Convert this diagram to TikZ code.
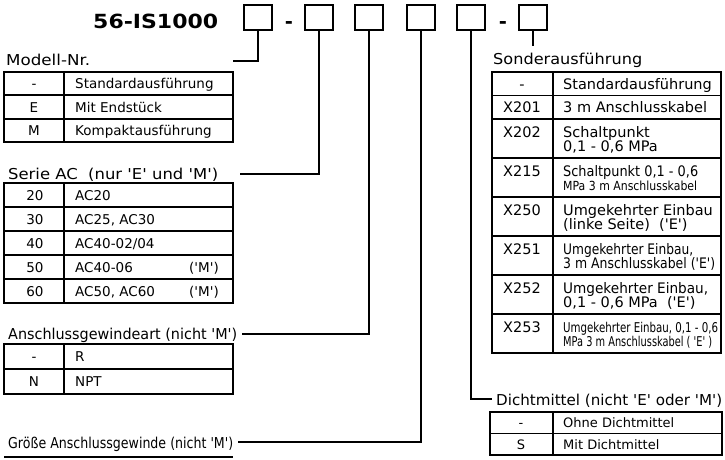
\documentclass[tikz,border=0pt]{standalone}
\usepackage{fontspec}
\usepackage{graphicx}
\newfontfamily\fplain{DejaVu Sans}
\newcommand\setfs[1]{\fontsize{#1}{#1}\selectfont}
\newcommand\fitw[2]{\resizebox{#1pt}{\height}{#2}}
\begin{document}
\begin{tikzpicture}[x=1pt,y=-1pt,
  box/.style={draw, line width=1.4pt, minimum width=28pt, minimum height=25pt, inner sep=0pt},
  conn/.style={line width=2pt},
  tbl/.style={line width=1.9pt},
  lab/.style={font=\fplain\setfs{15}, anchor=base west, inner sep=0pt},
  tl/.style={font=\fplain\setfs{13.5}, anchor=base west, inner sep=0pt},
  tle/.style={font=\fplain\setfs{13.5}, anchor=base east, inner sep=0pt},
  tc/.style={font=\fplain\setfs{13.5}, anchor=base, inner sep=0pt},
  tr/.style={font=\fplain\setfs{14.5}, anchor=base west, inner sep=0pt},
  trc/.style={font=\fplain\setfs{14.5}, anchor=base, inner sep=0pt},
  tdl/.style={font=\fplain\setfs{13}, anchor=base west, inner sep=0pt},
  tdc/.style={font=\fplain\setfs{13}, anchor=base, inner sep=0pt},
  ttl/.style={font=\fplain\bfseries\setfs{19.5}, inner sep=0pt}
]
\useasboundingbox (0,0) rectangle (725,459);

% title and code boxes
\node[ttl, anchor=base west] (title) at (93,28) {\fitw{125}{56-IS1000}};
\node[box] (b1) at (258,17.5) {};
\node[ttl, anchor=base] (d1) at (289,28) {-};
\node[box] (b2) at (319,17.5) {};
\node[box] (b3) at (369,17.5) {};
\node[box] (b4) at (421,17.5) {};
\node[box] (b5) at (471,17.5) {};
\node[ttl, anchor=base] (d2) at (503,28) {-};
\node[box] (b6) at (533,17.5) {};

% labels
\node[lab] (l1) at (6,65) {\fitw{84}{Modell-Nr.}};
\node[lab] (l2) at (8,179) {\fitw{210}{Serie AC\ \ (nur 'E' und 'M')}};
\node[lab] (l3) at (8,339) {\fitw{229}{Anschlussgewindeart (nicht 'M')}};
\node[lab] (l4) at (8,448) {\fitw{225}{Größe Anschlussgewinde (nicht 'M')}};
\node[lab] (l5) at (496,405) {\fitw{226}{Dichtmittel (nicht 'E' oder 'M')}};
\node[lab] (l6) at (493,64) {\fitw{149}{Sonderausführung}};

% connectors
\coordinate (c1) at (233,61);
\coordinate (c2) at (240,174);
\coordinate (c3) at (242,334);
\coordinate (c4) at (238,442);
\coordinate (c5) at (492,399);
\coordinate (c6) at (533,46);
\draw[conn] (b1.south) |- (c1);
\draw[conn] (b2.south) |- (c2);
\draw[conn] (b3.south) |- (c3);
\draw[conn] (b4.south) |- (c4);
\draw[conn] (b5.south) |- (c5);
\draw[conn] (b6.south) -- (c6);

% table Modell-Nr.
\draw[tbl] (4,72) rectangle (233,142);
\draw[tbl] (64,72) -- (64,142);
\foreach \y in {95.3,118.7} \draw[tbl] (4,\y) -- (233,\y);
\node[tc] (m1a) at (34,88.6) {-};
\node[tl] (m1b) at (75,88.6) {Standardausführung};
\node[tc] (m2a) at (34,112) {E};
\node[tl] (m2b) at (75,112) {Mit Endstück};
\node[tc] (m3a) at (34,135.2) {M};
\node[tl] (m3b) at (75,135.2) {Kompaktausführung};

% table Serie AC
\draw[tbl] (4,183) rectangle (233,303);
\draw[tbl] (64,183) -- (64,303);
\foreach \y in {207,231,255,279} \draw[tbl] (4,\y) -- (233,\y);
\node[tc] (s1a) at (35,200) {20};
\node[tl] (s1b) at (75,200) {AC20};
\node[tc] (s2a) at (35,224) {30};
\node[tl] (s2b) at (75,224) {AC25, AC30};
\node[tc] (s3a) at (35,248) {40};
\node[tl] (s3b) at (75,248) {AC40-02/04};
\node[tc] (s4a) at (35,272) {50};
\node[tl] (s4b) at (75,272) {AC40-06};
\node[tle] (s4c) at (219,272) {('M')};
\node[tc] (s5a) at (35,296) {60};
\node[tl] (s5b) at (75,296) {AC50, AC60};
\node[tle] (s5c) at (219,296) {('M')};

% table Anschlussgewindeart
\draw[tbl] (4,344) rectangle (233,394);
\draw[tbl] (64,344) -- (64,394);
\draw[tbl] (4,369) -- (233,369);
\node[tc] (a1a) at (34,361.4) {-};
\node[tl] (a1b) at (75,361.4) {R};
\node[tc] (a2a) at (34,386.4) {N};
\node[tl] (a2b) at (75,386.4) {NPT};

% top edge of table below
\draw[tbl] (4,457) -- (233,457);

% table Sonderausfuehrung
\draw[tbl] (492,72) rectangle (721,353);
\draw[tbl] (553,72) -- (553,353);
\foreach \y in {95.5,119,158,197,236,275,314} \draw[tbl] (492,\y) -- (721,\y);
\node[trc] (x0a) at (522,89) {-};
\node[tr] (x0b) at (563,89) {Standardausführung};
\node[trc] (x1a) at (522,112.5) {X201};
\node[tr] (x1b) at (563,112.5) {3 m Anschlusskabel};
\node[trc] (x2a) at (522,137) {X202};
\node[tr] (x2b) at (563,137) {Schaltpunkt};
\node[tr] (x2c) at (563,151) {0,1 - 0,6 MPa};
\node[trc] (x3a) at (522,176) {X215};
\node[tr] (x3b) at (563,176) {\fitw{135}{Schaltpunkt 0,1 - 0,6}};
\node[tr] (x3c) at (563,190) {\setfs{12.5}\fitw{134}{MPa 3 m Anschlusskabel}};
\node[trc] (x4a) at (522,215) {X250};
\node[tr] (x4b) at (563,215) {Umgekehrter Einbau};
\node[tr] (x4c) at (563,229) {(linke Seite)\ \ ('E')};
\node[trc] (x5a) at (522,254) {X251};
\node[tr] (x5b) at (563,254) {\fitw{130}{Umgekehrter Einbau,}};
\node[tr] (x5c) at (563,268) {\fitw{152}{3 m Anschlusskabel ('E')}};
\node[trc] (x6a) at (522,293) {X252};
\node[tr] (x6b) at (563,293) {\fitw{145}{Umgekehrter Einbau,}};
\node[tr] (x6c) at (563,307) {0,1 - 0,6 MPa\ \ ('E')};
\node[trc] (x7a) at (522,332) {X253};
\node[tr] (x7b) at (563,332) {\setfs{13.5}\fitw{155}{Umgekehrter Einbau, 0,1 - 0,6}};
\node[tr] (x7c) at (563,346) {\setfs{13.5}\fitw{149}{MPa 3 m Anschlusskabel ( 'E' )}};

% table Dichtmittel
\draw[tbl] (490,412) rectangle (722,455);
\draw[tbl] (553,412) -- (553,455);
\draw[tbl] (490,433.5) -- (722,433.5);
\node[tdc] (k1a) at (521,427.5) {-};
\node[tdl] (k1b) at (563,427.5) {Ohne Dichtmittel};
\node[tdc] (k2a) at (521,449) {S};
\node[tdl] (k2b) at (563,449) {Mit Dichtmittel};
\end{tikzpicture}
\end{document}
